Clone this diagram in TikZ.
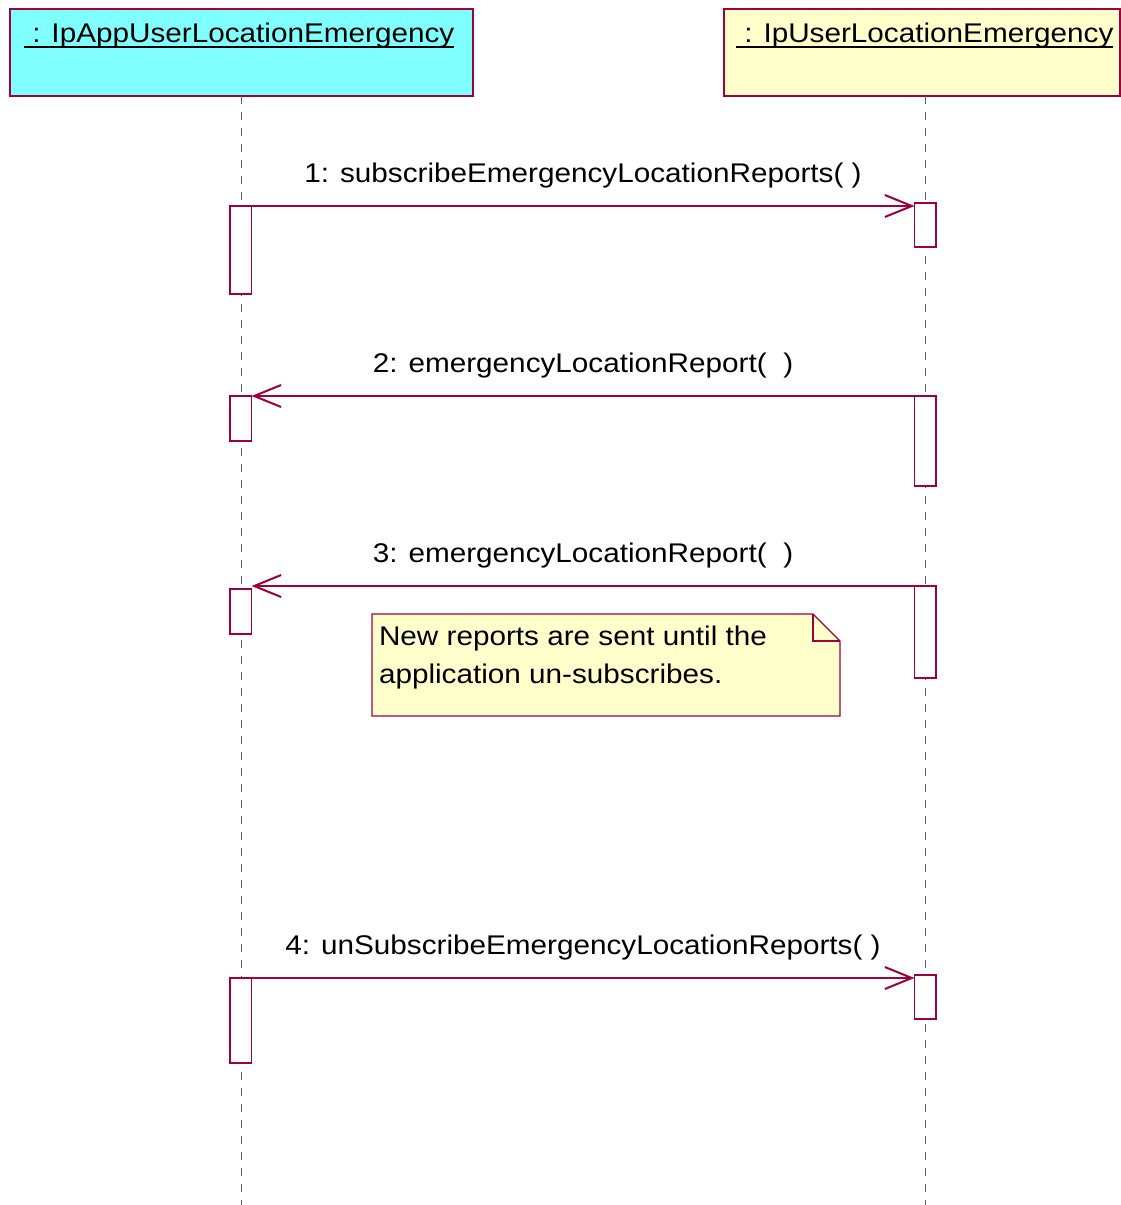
\documentclass[tikz,border=0pt]{standalone}
\usepackage{fontspec}
\setmainfont[FakeStretch=1.1]{Liberation Sans}
\usetikzlibrary{arrows.meta}
\definecolor{umlred}{RGB}{160,0,60}
\definecolor{objcyan}{RGB}{128,255,255}
\definecolor{noteyellow}{RGB}{255,255,204}
\definecolor{lifegray}{RGB}{96,96,96}
\begin{document}
\begin{tikzpicture}[x=1pt,y=-1pt,
  every node/.style={font=\fontsize{27}{38}\selectfont, inner sep=0pt, outer sep=0pt},
  objbox/.style={draw=umlred, line width=1.2pt, minimum height=87pt, anchor=north west},
  actbox/.style={draw=umlred, line width=1.2pt, fill=white, minimum width=21.5pt, anchor=north west},
  lifeline/.style={draw=lifegray, line width=1pt, dash pattern=on 8pt off 8pt},
  msg/.style={draw=umlred, line width=1.3pt, -{Straight Barb[length=27pt,width=22pt,line width=2pt]}},
  lbl/.style={midway, anchor=base, yshift=24pt},
  notebox/.style={draw=umlred, line width=1.2pt, fill=noteyellow, line join=miter}
]
\useasboundingbox (0,0) rectangle (1120,1205);
% object boxes
\node[objbox, fill=objcyan, minimum width=463pt] (objL) at (10,9) {};
\node[objbox, fill=noteyellow, minimum width=396pt] (objR) at (724,9) {};
\node[anchor=base west] (tL) at (24,42) {\ : IpAppUserLocationEmergency};
\node[anchor=base west] (tR) at (736,42) {\ : IpUserLocationEmergency};
\draw[line width=2pt] ([yshift=-5pt]tL.base west) -- ([yshift=-5pt]tL.base east);
\draw[line width=2pt] ([yshift=-5pt]tR.base west) -- ([yshift=-5pt]tR.base east);
% lifelines
\coordinate (endL) at (241,1205);
\coordinate (endR) at (925.5,1205);
\draw[lifeline] (endL |- objL.south) -- (endL);
\draw[lifeline] (endR |- objR.south) -- (endR);
% activations
\node[actbox, minimum height=88pt] (L1) at (230,206) {};
\node[actbox, minimum height=44pt] (R1) at (914.5,203) {};
\node[actbox, minimum height=45pt] (L2) at (230,396) {};
\node[actbox, minimum height=90pt] (R2) at (914.5,396) {};
\node[actbox, minimum height=45pt] (L3) at (230,589) {};
\node[actbox, minimum height=92pt] (R3) at (914.5,586) {};
\node[actbox, minimum height=85pt] (L4) at (230,978) {};
\node[actbox, minimum height=44pt] (R4) at (914.5,975) {};
% messages
\draw[msg] (L1.north east) -- (R1.west |- L1.north east) node[lbl] {1: subscribeEmergencyLocationReports( )};
\draw[msg] (R2.north west) -- (L2.north east) node[lbl] {2: emergencyLocationReport(\ \ )};
\draw[msg] (R3.north west) -- (L3.east |- R3.north west) node[lbl] {3: emergencyLocationReport(\ \ )};
\draw[msg] (L4.north east) -- (R4.west |- L4.north east) node[lbl] {4: unSubscribeEmergencyLocationReports( )};
% note
\draw[notebox] (372,614) -- (813,614) -- (840,641) -- (840,716) -- (372,716) -- cycle;
\draw[umlred, line width=1.2pt] (813,614) -- (813,641) -- (840,641);
\node[anchor=base west] (n1) at (379,645) {New reports are sent until the};
\node[anchor=base west] (n2) at (379,683) {application un-subscribes.};
\end{tikzpicture}
\end{document}
